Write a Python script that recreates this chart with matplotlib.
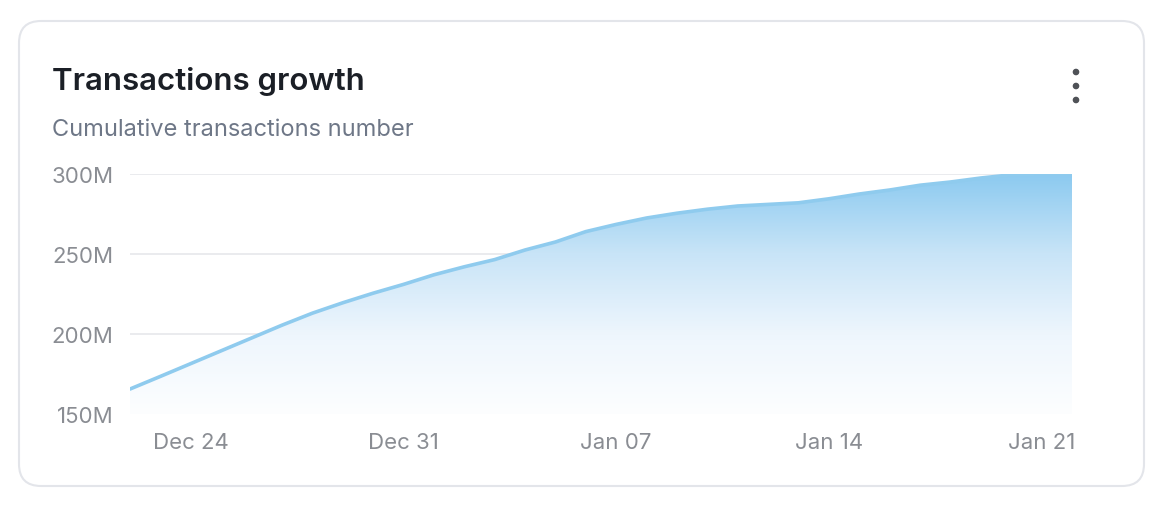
import numpy as np
import pandas as pd
import matplotlib
matplotlib.use("Agg")
import matplotlib.pyplot as plt
import matplotlib.dates as mdates
from matplotlib.patches import FancyBboxPatch, Circle
from matplotlib.colors import LinearSegmentedColormap

plt.rcParams['font.family'] = ['Inter', 'DejaVu Sans']

# ---- data ----
start_date = "2023-12-22"
end_date = "2024-01-22"
values_m = [165.6, 173.5, 181.5, 189.5, 197.5, 205.5, 213.0, 219.5, 225.5, 231.0,
            237.0, 242.0, 246.5, 252.5, 257.5, 264.0, 268.5, 272.5, 275.5, 278.0,
            280.0, 281.0, 282.0, 284.5, 287.5, 290.0, 293.0, 295.0, 297.5, 299.5,
            300.0, 300.0]
tick_dates = ["2023-12-24", "2023-12-31", "2024-01-07", "2024-01-14", "2024-01-21"]
tick_labels = ["Dec 24", "Dec 31", "Jan 07", "Jan 14", "Jan 21"]
y_ticks = [150, 200, 250, 300]
y_tick_labels = ["150M", "200M", "250M", "300M"]
title = "Transactions growth"
subtitle = "Cumulative transactions number"

dates = pd.date_range(start_date, end_date, freq="D")
x = mdates.date2num(dates)
y = np.array(values_m)

W, H = 1170, 510
fig = plt.figure(figsize=(W / 100, H / 100), dpi=100)
fig.patch.set_facecolor("white")

# card
card_ax = fig.add_axes([0, 0, 1, 1])
card_ax.set_xlim(0, W)
card_ax.set_ylim(H, 0)
card_ax.axis("off")
card = FancyBboxPatch((19, 22), 1125, 465, boxstyle="round,pad=0,rounding_size=22",
                      facecolor="white", edgecolor="#e3e5ea", linewidth=1.5)
card_ax.add_patch(card)
card_ax.text(52, 81, title, fontsize=22.5, fontweight="semibold", color="#1b1f26",
             va="center", ha="left")
card_ax.text(52, 130, subtitle, fontsize=17, color="#6e7787", va="center", ha="left")
for cy in (73, 87, 101):
    card_ax.add_patch(Circle((1076, cy), 2.6, color="#4f5257"))

# plot axes
left, right, top, bottom = 130, 1072, 175, 415
ax = fig.add_axes([left / W, 1 - bottom / H, (right - left) / W, (bottom - top) / H])
ax.set_facecolor("none")
ax.set_xlim(x[0], x[-1])
ax.set_ylim(150, 300)

for s in ax.spines.values():
    s.set_visible(False)
ax.set_yticks(y_ticks)
ax.set_yticklabels(y_tick_labels)
ax.set_xticks(mdates.date2num(pd.to_datetime(tick_dates)))
ax.set_xticklabels(tick_labels)
ax.tick_params(axis="both", length=0, labelsize=16, labelcolor="#8a8d93")
ax.tick_params(axis="y", pad=12)
ax.tick_params(axis="x", pad=13)
ax.grid(axis="y", color="#e8e9ed", linewidth=1.3)
ax.set_axisbelow(True)

# gradient fill
poly = ax.fill_between(x, y, 150, color="none", linewidth=0)
cmap = LinearSegmentedColormap.from_list(
    "g", [(0.0, "#fdfeff"), (0.33, "#eef6fd"), (0.67, "#c8e4f7"), (1.0, "#8ccaf0")])
grad = np.linspace(0, 1, 256).reshape(-1, 1)
im = ax.imshow(grad, extent=[x[0], x[-1], 150, 300], origin="lower", aspect="auto",
               cmap=cmap, vmin=0, vmax=1, zorder=1)
path = poly.get_paths()[0]
im.set_clip_path(path, transform=ax.transData)

ax.plot(x, y, color="#8fcbee", linewidth=2.6, solid_capstyle="round", zorder=3)

fig.savefig("out.png", dpi=100, facecolor="white")
